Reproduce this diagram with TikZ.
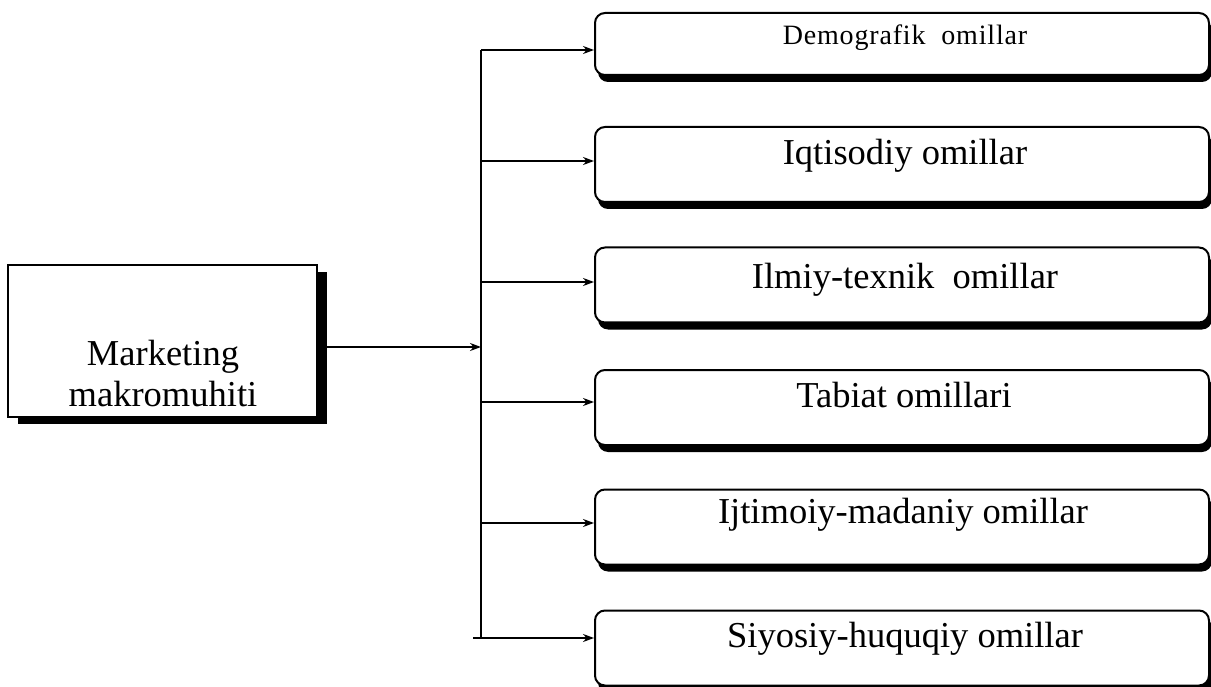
\documentclass[tikz,border=0pt]{standalone}
\usepackage{fontspec}
\setmainfont{Liberation Serif}
\usetikzlibrary{arrows.meta,shadows}
\begin{document}
\begin{tikzpicture}[x=1pt,y=-1pt,
  mainbox/.style={draw=black, line width=1.6pt, fill=white, inner sep=0pt,
    minimum width=309pt, minimum height=152pt,
    drop shadow={shadow xshift=10pt, shadow yshift=-7pt, opacity=1, fill=black}},
  factor/.style={draw=black, line width=2pt, rounded corners=10pt, fill=white,
    inner sep=0pt, minimum width=614pt, minimum height=75pt,
    drop shadow={shadow xshift=3pt, shadow yshift=-7pt, opacity=1, fill=black}},
  bigtext/.style={font=\fontsize{36.5}{41}\selectfont, inner sep=0pt},
  label/.style={bigtext, anchor=base},
  smalllabel/.style={anchor=base, inner sep=0pt,
    font=\fontsize{28}{32}\selectfont\addfontfeature{LetterSpace=3}},
  conn/.style={line width=2.2pt, -{Stealth[length=11pt,width=8pt]}},
  trunkline/.style={line width=2.6pt}
]
\useasboundingbox (0,0) rectangle (1211,687);

% main box
\node[mainbox] (mb) at (162.5,341) {};
\node[bigtext, align=center, anchor=north] (mbt) at (163,339.5) {Marketing\\makromuhiti};

% factor boxes
\node[factor, minimum height=62pt] (b1) at (902,44) {};
\node[factor] (b2) at (902,164.5) {};
\node[factor] (b3) at (902,285) {};
\node[factor] (b4) at (902,407.5) {};
\node[factor] (b5) at (902,527) {};
\node[factor] (b6) at (902,648) {};

\node[smalllabel] (l1) at (905,45) {Demografik~~omillar};
\node[label] (l2) at (905,165) {Iqtisodiy omillar};
\node[label] (l3) at (905,289) {Ilmiy-texnik~~omillar};
\node[label] (l4) at (904,407) {Tabiat omillari};
\node[label] (l5) at (903,523) {Ijtimoiy-madaniy omillar};
\node[label] (l6) at (905,647) {Siyosiy-huquqiy omillar};

% branch points on the trunk
\coordinate (t1) at (481,50);
\coordinate (t2) at (481,161);
\coordinate (t3) at (481,282);
\coordinate (t4) at (481,402);
\coordinate (t5) at (481,523);
\coordinate (t6) at (481,638);
\coordinate (tin) at (481,347);
\coordinate (stub) at (473,638);

% connectors
\draw[line width=2pt, -{Stealth[length=11pt,width=8pt]}] ([yshift=-6pt]mb.east) -- (tin);
\draw[trunkline] (t6) -- (t1);
\draw[conn] (t1) -- (t1 -| b1.west);
\draw[conn] (t2) -- (t2 -| b2.west);
\draw[conn] (t3) -- (t3 -| b3.west);
\draw[conn] (t4) -- (t4 -| b4.west);
\draw[conn] (t5) -- (t5 -| b5.west);
\draw[conn] (stub) -- (stub -| b6.west);
\end{tikzpicture}
\end{document}
